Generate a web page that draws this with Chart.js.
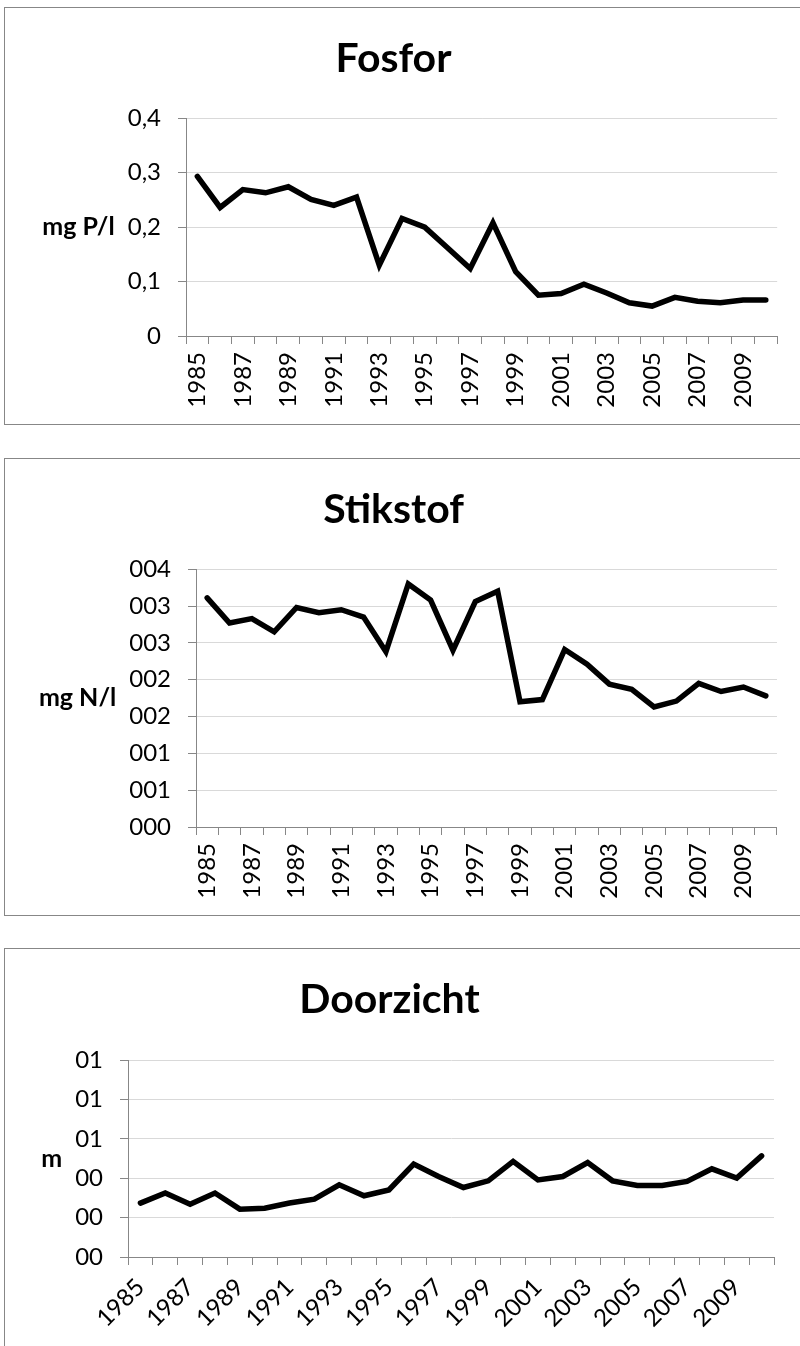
<!DOCTYPE html>
<html>
<head>
<meta charset="utf-8">
<title>Fosfor, Stikstof, Doorzicht</title>
<script src="https://cdn.jsdelivr.net/npm/chart.js@4.4.0/dist/chart.umd.min.js"></script>
<style>
    html, body { margin: 0; padding: 0; background: #fff; width: 800px; height: 1346px; overflow: hidden; position: relative; }
    .box { position: absolute; left: 4px; border: 1px solid #878787; background: #fff; }
    .box canvas { display: block; }
</style>
</head>
<body>
<div class="box" style="top:7px;"><canvas id="fosforChart" width="798" height="416"></canvas></div>
<div class="box" style="top:458px;"><canvas id="stikstofChart" width="798" height="456"></canvas></div>
<div class="box" style="top:948px;"><canvas id="doorzichtChart" width="798" height="418"></canvas></div>
<script>
const years = ["1985", "1986", "1987", "1988", "1989", "1990", "1991", "1992", "1993", "1994", "1995", "1996", "1997",
    "1998", "1999", "2000", "2001", "2002", "2003", "2004", "2005", "2006", "2007", "2008", "2009", "2010"];

// mg P/l
const fosfor = [0.293, 0.236, 0.269, 0.263, 0.274, 0.251, 0.240, 0.255, 0.130, 0.216, 0.200, 0.162, 0.124,
    0.208, 0.118, 0.075, 0.078, 0.095, 0.079, 0.061, 0.055, 0.071, 0.064, 0.061, 0.066, 0.066];

// mg N/l
const stikstof = [3.11, 2.77, 2.83, 2.65, 2.98, 2.91, 2.95, 2.85, 2.38, 3.30, 3.08, 2.40, 3.06,
    3.20, 1.70, 1.73, 2.41, 2.21, 1.94, 1.87, 1.63, 1.71, 1.95, 1.84, 1.90, 1.78];

// m
const doorzicht = [0.274, 0.325, 0.268, 0.325, 0.243, 0.248, 0.274, 0.294, 0.367, 0.311, 0.341, 0.472, 0.409,
    0.353, 0.387, 0.486, 0.392, 0.409, 0.480, 0.387, 0.363, 0.363, 0.384, 0.448, 0.401, 0.514];

const fosforTickLabels = ["0", "0,1", "0,2", "0,3", "0,4"];
const stikstofTickLabels = ["000", "001", "001", "002", "002", "003", "003", "004"];
const doorzichtTickLabels = ["00", "00", "00", "01", "01", "01"];

Chart.defaults.font.family = "Lato, 'Open Sans', sans-serif";
Chart.defaults.color = "#000";

const AXIS_GREY = "#878787";
const TICK_FONT_SIZE = 24;
const Y_TICK_PAD = 17;
const TITLE_SIZE = 41;

// horizontal unit label left of the value axis
const unitLabelPlugin = {
    id: "unitLabel",
    afterDraw(chart, args, opts) {
        const { ctx, chartArea } = chart;
        const yScale = chart.scales.y;
        ctx.save();
        ctx.font = `${TICK_FONT_SIZE}px ${Chart.defaults.font.family}`;
        let maxW = 0;
        yScale.ticks.forEach(t => {
            const w = ctx.measureText(String(t.label)).width;
            if (w > maxW) maxW = w;
        });
        const x = chartArea.left - 8 - Y_TICK_PAD - maxW - 13;
        const y = (chartArea.top + chartArea.bottom) / 2;
        ctx.font = `bold 25px ${Chart.defaults.font.family}`;
        ctx.fillStyle = "#000";
        ctx.textAlign = "right";
        ctx.textBaseline = "middle";
        ctx.fillText(opts.text, x, y);
        ctx.restore();
    }
};

function makeChart(canvasId, cfg) {
    return new Chart(document.getElementById(canvasId), {
        type: "line",
        data: {
            labels: years,
            datasets: [{
                data: cfg.values,
                borderColor: "#000",
                borderWidth: 5.5,
                pointRadius: 0,
                tension: 0,
                borderJoinStyle: "miter",
                borderCapStyle: "round",
                fill: false
            }]
        },
        options: {
            responsive: false,
            animation: false,
            layout: { padding: { left: 0, right: cfg.padRight, top: 0, bottom: 0 } },
            plugins: {
                legend: { display: false },
                tooltip: { enabled: false },
                title: {
                    display: true,
                    text: cfg.title,
                    color: "#000",
                    font: { size: TITLE_SIZE, weight: "bold" },
                    padding: { top: 26, bottom: cfg.titleGap }
                },
                unitLabel: { text: cfg.unit }
            },
            scales: {
                x: {
                    offset: true,
                    grid: {
                        offset: true,
                        drawOnChartArea: false,
                        drawTicks: true,
                        tickLength: 8,
                        tickColor: AXIS_GREY,
                        color: AXIS_GREY
                    },
                    border: { display: true, color: AXIS_GREY, width: 1 },
                    ticks: {
                        autoSkip: false,
                        minRotation: cfg.rotation,
                        maxRotation: cfg.rotation,
                        padding: 8,
                        color: "#000",
                        font: { size: TICK_FONT_SIZE },
                        callback: (v, i) => (i % 2 === 0 ? years[i] : "")
                    },
                    afterFit: s => { s.height = cfg.xHeight; }
                },
                y: {
                    min: 0,
                    max: cfg.max,
                    ticks: {
                        stepSize: cfg.step,
                        padding: Y_TICK_PAD,
                        color: "#000",
                        font: { size: TICK_FONT_SIZE },
                        callback: (v, i) => cfg.tickLabels[i]
                    },
                    grid: {
                        color: c => (c.tick && c.tick.value === 0 ? AXIS_GREY : "#d9d9d9"),
                        lineWidth: 1,
                        tickColor: AXIS_GREY,
                        tickLength: 8
                    },
                    border: { display: true, color: AXIS_GREY, width: 1 },
                    afterFit: s => { s.width = cfg.yWidth; }
                }
            }
        },
        plugins: [unitLabelPlugin]
    });
}

makeChart("fosforChart", {
    title: "Fosfor",
    unit: "mg P/l",
    values: fosfor,
    max: 0.4,
    step: 0.1,
    tickLabels: fosforTickLabels,
    rotation: 90,
    yWidth: 181,
    xHeight: 88,
    padRight: 21,
    titleGap: 35
});

makeChart("stikstofChart", {
    title: "Stikstof",
    unit: "mg N/l",
    values: stikstof,
    max: 3.5,
    step: 0.5,
    tickLabels: stikstofTickLabels,
    rotation: 90,
    yWidth: 191,
    xHeight: 88,
    padRight: 21,
    titleGap: 35
});

makeChart("doorzichtChart", {
    title: "Doorzicht",
    unit: "m",
    values: doorzicht,
    max: 1,
    step: 0.2,
    tickLabels: doorzichtTickLabels,
    rotation: 45,
    yWidth: 123,
    xHeight: 110,
    padRight: 29,
    titleGap: 36
});
</script>
</body>
</html>
